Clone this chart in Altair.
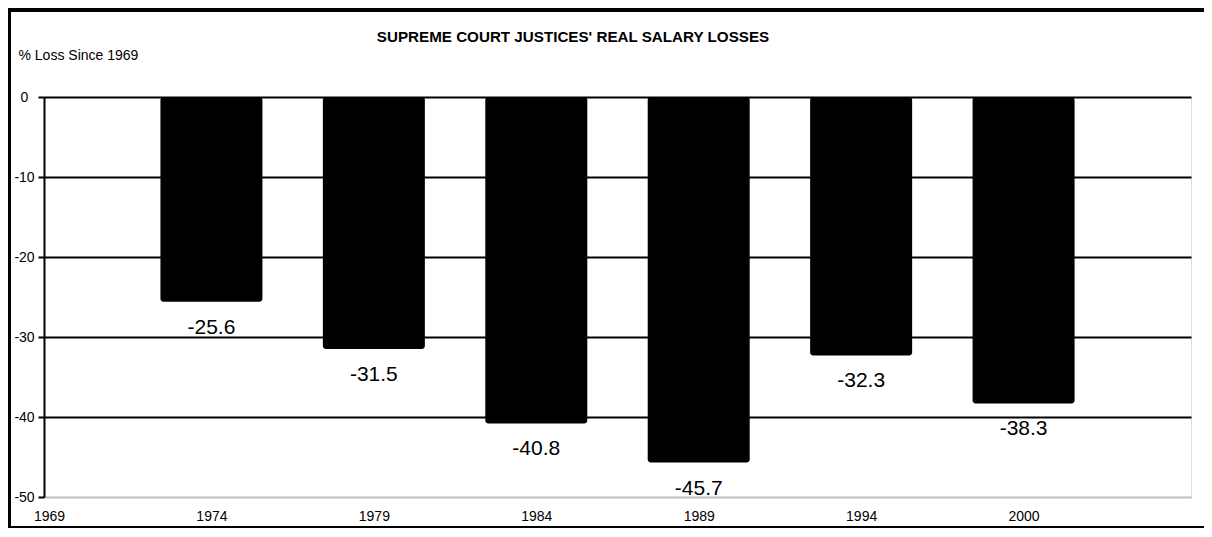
import altair as alt
import pandas as pd

# category labels along the x axis (index 0 = 1969 base year)
title_text = "SUPREME COURT JUSTICES' REAL SALARY LOSSES"
y_title = "% Loss Since 1969"
axis_years = ["1969", "1974", "1979", "1984", "1989", "1994", "2000"]
bar_years = ["1974", "1979", "1984", "1989", "1994", "2000"]
losses = [-25.6, -31.5, -40.8, -45.7, -32.3, -38.3]
y_ticks = [0, -10, -20, -30, -40, -50]

df = pd.DataFrame({
    "year": bar_years,
    "pos": [axis_years.index(y) for y in bar_years],
    "loss": losses,
    "label": ["%.1f" % v for v in losses],
})

FONT = "Liberation Sans, Arial, sans-serif"
label_expr = "[" + ",".join("'%s'" % y for y in axis_years) + "][datum.value]"

x_enc = alt.X(
    "pos:Q",
    scale=alt.Scale(domain=[0, len(axis_years)], nice=False, zero=False),
    axis=alt.Axis(
        values=list(range(len(axis_years))), labelExpr=label_expr, title=None,
        ticks=False, tickSize=0, domain=False, grid=False,
        labelFontSize=14, labelPadding=12, labelFlush=False,
        labelColor="black", labelFont=FONT, labelBaseline="top",
    ),
)
y_enc = alt.Y(
    "loss:Q",
    stack=None,
    scale=alt.Scale(domain=[-50, 0], nice=False),
    axis=alt.Axis(
        values=y_ticks, labelExpr="'' + datum.value",
        title=y_title, titleAngle=0,
        titleX=-26, titleY=-42, titleAlign="left", titleBaseline="middle",
        titleFontWeight="normal", titleFontSize=14, titleFont=FONT, titleColor="black",
        grid=True,
        gridColor={"condition": {"test": "datum.value === -50", "value": "#c0c0c0"}, "value": "black"},
        gridWidth=2, domainColor="black", domainWidth=2,
        tickColor="black", tickWidth=2, tickSize=6,
        labelAlign="center", labelBaseline="middle", labelPadding=14,
        labelFontSize=14, labelColor="black", labelFont=FONT,
    ),
)

base = alt.Chart(df)
bars = base.mark_bar(color="black", size=102, cornerRadius=3).encode(x=x_enc, y=y_enc)
labels = base.mark_text(
    fontSize=21, baseline="alphabetic", dy=32, color="black", font=FONT
).encode(x="pos:Q", y="loss:Q", text="label:N")

one = alt.Chart(pd.DataFrame({"a": [0]}))
title = one.mark_text(
    text=title_text, fontSize=15.2, fontWeight="bold", font=FONT, color="black",
    align="center", baseline="middle",
).encode(x=alt.value(529), y=alt.value(-60.5))
left_border = one.mark_rule(color="black", strokeWidth=3).encode(
    x=alt.value(-34.5), y=alt.value(-89), y2=alt.value(431))
top_border = one.mark_rule(color="black", strokeWidth=4).encode(
    y=alt.value(-87), x=alt.value(-36), x2=alt.value(1160))
bottom_border = one.mark_rule(color="black", strokeWidth=2).encode(
    y=alt.value(430), x=alt.value(-36), x2=alt.value(1160))

chart = alt.layer(bars, labels, title, left_border, top_border, bottom_border).properties(
    width=1147, height=400,
    padding={"left": 36, "top": 89, "right": 13, "bottom": 32},
    autosize="none",
).configure_view(stroke="#c0c0c0", strokeWidth=2).configure(background="white")

chart.save("out.html", embed_options={"renderer": "svg", "actions": False})
